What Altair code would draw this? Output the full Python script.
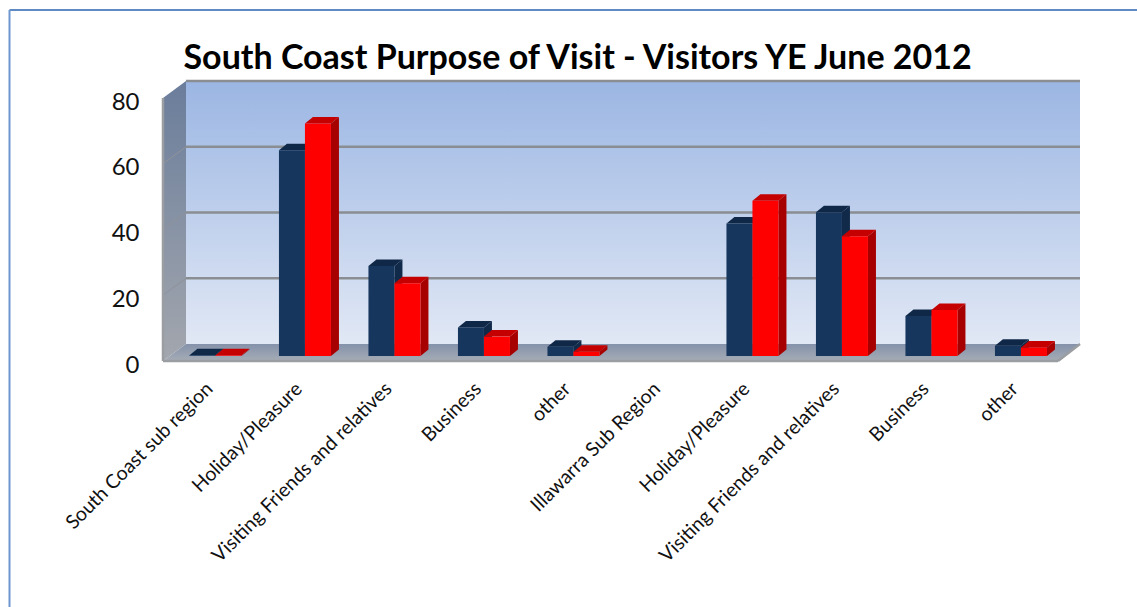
import altair as alt
import pandas as pd

TITLE = "South Coast Purpose of Visit - Visitors YE June 2012"
CATEGORIES = [
    "South Coast sub region", "Holiday/Pleasure", "Visiting Friends and relatives",
    "Business", "other", "Illawarra Sub Region", "Holiday/Pleasure",
    "Visiting Friends and relatives", "Business", "other",
]
NAVY_VALUES = [0.2, 62.6, 27.4, 8.7, 2.8, None, 40.3, 43.7, 12.2, 3.1]
RED_VALUES = [0.2, 70.7, 22.1, 5.9, 1.3, None, 47.2, 36.4, 14.0, 2.6]
Y_TICKS = [0, 20, 40, 60, 80]

# Plot-area geometry in pixels, and the size of one category / one value unit.
PAD_LEFT, PAD_TOP = 163, 81
PLOT_W, PLOT_H = 917, 280
PX_PER_CAT = 89.5
PX_PER_VAL = 263 / 80

# Oblique projection offsets, expressed in data units.
WALL_DX = 23 / PX_PER_CAT
WALL_DY = 17 / PX_PER_VAL
BAR_DX = 8 / PX_PER_CAT
BAR_DY = 6.5 / PX_PER_VAL
BAR_W = 26 / PX_PER_CAT
BAR_BASE = 5 / PX_PER_VAL
BAR_SHIFT = 7.7 / PX_PER_CAT

X_MIN = -0.5
X_FRONT_END = X_MIN + 10
X_MAX = X_MIN + PLOT_W / PX_PER_CAT
Y_MAX = PLOT_H / PX_PER_VAL
Y_TOP = 80

x_scale = alt.Scale(domain=[X_MIN, X_MAX], nice=False, zero=False)
y_scale = alt.Scale(domain=[0, Y_MAX], nice=False, zero=False)

label_lookup = "[" + ",".join(repr(c) for c in CATEGORIES) + "][datum.value]"
x_axis = alt.Axis(
    values=list(range(len(CATEGORIES))), labelExpr=label_lookup,
    labelAngle=-45, labelAlign="right", labelBaseline="top",
    labelFont="Lato", labelFontSize=19.5, labelColor="#111111", labelLimit=400,
    labelOverlap=False, labelFlush=False, labelBound=False,
    labelPadding=18, labelOffset=-5,
    domain=False, ticks=False, grid=False, title=None,
)
y_axis = alt.Axis(
    values=Y_TICKS, labelFont="Lato", labelFontSize=24, labelColor="#111111",
    labelPadding=24, labelOffset=4, labelOverlap=False, labelFlush=False, labelBound=False,
    domain=False, ticks=False, grid=False, title=None,
)


def enc(**extra):
    return dict(
        x=alt.X("x:Q", scale=x_scale, axis=x_axis),
        y=alt.Y("y:Q", scale=y_scale, axis=y_axis),
        **extra,
    )


def gradient(top, bottom):
    return alt.Gradient(
        gradient="linear", x1=0, x2=0, y1=0, y2=1,
        stops=[alt.GradientStop(color=top, offset=0), alt.GradientStop(color=bottom, offset=1)],
    )


def parallelogram(points, **mark):
    df = pd.DataFrame(points, columns=["x", "y", "y2", "k"])
    return alt.Chart(df).mark_area(**mark).encode(
        y2="y2:Q", detail="k:N", **enc()
    )


def series_layers(values, offset, front, side, top):
    side_pts, top_pts, fronts = [], [], []
    for i, v in enumerate(values):
        if v is None:
            continue
        x0 = i + BAR_SHIFT - BAR_W + offset
        x1 = x0 + BAR_W
        h = BAR_BASE + v
        side_pts += [
            (x1, BAR_BASE, h, i),
            (x1 + BAR_DX, BAR_BASE + BAR_DY, h + BAR_DY, i),
        ]
        top_pts += [
            (x0, h, h, i),
            (x0 + BAR_DX, h, h + BAR_DY, i),
            (x1, h, h + BAR_DY, i),
            (x1 + BAR_DX, h + BAR_DY, h + BAR_DY, i),
        ]
        fronts.append({"x": x0, "x2": x1, "y": BAR_BASE, "y2": h})
    front_chart = alt.Chart(pd.DataFrame(fronts)).mark_rect(color=front).encode(
        x2="x2:Q", y2="y2:Q", **enc()
    )
    return [
        parallelogram(side_pts, color=side),
        parallelogram(top_pts, color=top),
        front_chart,
    ]


# Back wall.
wall = alt.Chart(pd.DataFrame([{
    "x": X_MIN + WALL_DX, "x2": X_MAX, "y": WALL_DY, "y2": Y_MAX,
}])).mark_rect(fill=gradient("#9bb6e3", "#e1e8f5")).encode(
    x2="x2:Q", y2="y2:Q", **enc()
)

left_wall = parallelogram(
    [
        (X_MIN, 0, Y_TOP, 0),
        (X_MIN + WALL_DX, WALL_DY, Y_MAX, 0),
    ],
    fill=gradient("#6a7d9b", "#a3a7ae"),
)

floor = parallelogram(
    [
        (X_MIN, 0, 0, 0),
        (X_MIN + WALL_DX, 0, WALL_DY, 0),
        (X_FRONT_END, 0, WALL_DY, 0),
        (X_MAX, WALL_DY, WALL_DY, 0),
    ],
    fill=gradient("#8492aa", "#a6acb6"),
)

# Gridlines along the back wall, with fainter continuations across the side wall.
back_rows, side_rows = [], []
for t in Y_TICKS[1:]:
    back_rows += [
        {"x": X_MIN + WALL_DX, "y": t + WALL_DY, "k": t},
        {"x": X_MAX, "y": t + WALL_DY, "k": t},
    ]
    if t < Y_TOP:
        side_rows += [
            {"x": X_MIN, "y": t, "k": t},
            {"x": X_MIN + WALL_DX, "y": t + WALL_DY, "k": t},
        ]
grid = alt.Chart(pd.DataFrame(back_rows)).mark_line(color="#8a8d91", strokeWidth=2.5).encode(
    detail="k:N", **enc()
)
side_grid = alt.Chart(pd.DataFrame(side_rows)).mark_line(color="#8f929a", strokeWidth=1).encode(
    detail="k:N", **enc()
)

# Outer edges of the walls and floor.
edge_rows = [
    {"x": X_MIN, "y": Y_TOP, "k": "left"},
    {"x": X_MIN, "y": 0, "k": "left"},
    {"x": X_MIN, "y": 0, "k": "front"},
    {"x": X_FRONT_END, "y": 0, "k": "front"},
    {"x": X_FRONT_END, "y": 0, "k": "slant"},
    {"x": X_MAX, "y": WALL_DY, "k": "slant"},
]
edges = alt.Chart(pd.DataFrame(edge_rows)).mark_line(color="#9a9da1", strokeWidth=2.5).encode(
    detail="k:N", **enc()
)

# Top and left border lines of the surrounding box.
BORDER_L, BORDER_T = 9.5, 10
top_border = alt.Chart(pd.DataFrame([{"k": 0}])).mark_rule(color="#5f8ac4", strokeWidth=2).encode(
    x=alt.value(BORDER_L - PAD_LEFT), x2=alt.value(1137 - PAD_LEFT), y=alt.value(BORDER_T - PAD_TOP),
)
left_border = alt.Chart(pd.DataFrame([{"k": 0}])).mark_rule(color="#6f97cf", strokeWidth=2).encode(
    x=alt.value(BORDER_L - PAD_LEFT), y=alt.value(BORDER_T - PAD_TOP), y2=alt.value(607 - PAD_TOP),
)

layers = [wall, top_border, left_border, left_wall, side_grid, floor, grid, edges]
layers += series_layers(NAVY_VALUES, 0, "#17365d", "#112a4a", "#102848")
layers += series_layers(RED_VALUES, BAR_W, "#ff0000", "#a60000", "#c40000")

chart = alt.layer(*layers).resolve_scale(x="shared", y="shared").properties(
    width=PLOT_W,
    height=PLOT_H,
    title=alt.Title(
        TITLE, anchor="start", font="Lato", fontSize=34, fontWeight="bold", color="#000000",
        dx=175, dy=67, offset=0,
    ),
    autosize=alt.AutoSizeParams(type="none"),
    padding={"left": PAD_LEFT, "top": PAD_TOP, "right": 1137 - PAD_LEFT - PLOT_W, "bottom": 607 - PAD_TOP - PLOT_H},
).configure_view(stroke=None)

chart.save("out.html", embed_options={"renderer": "svg", "actions": False})
